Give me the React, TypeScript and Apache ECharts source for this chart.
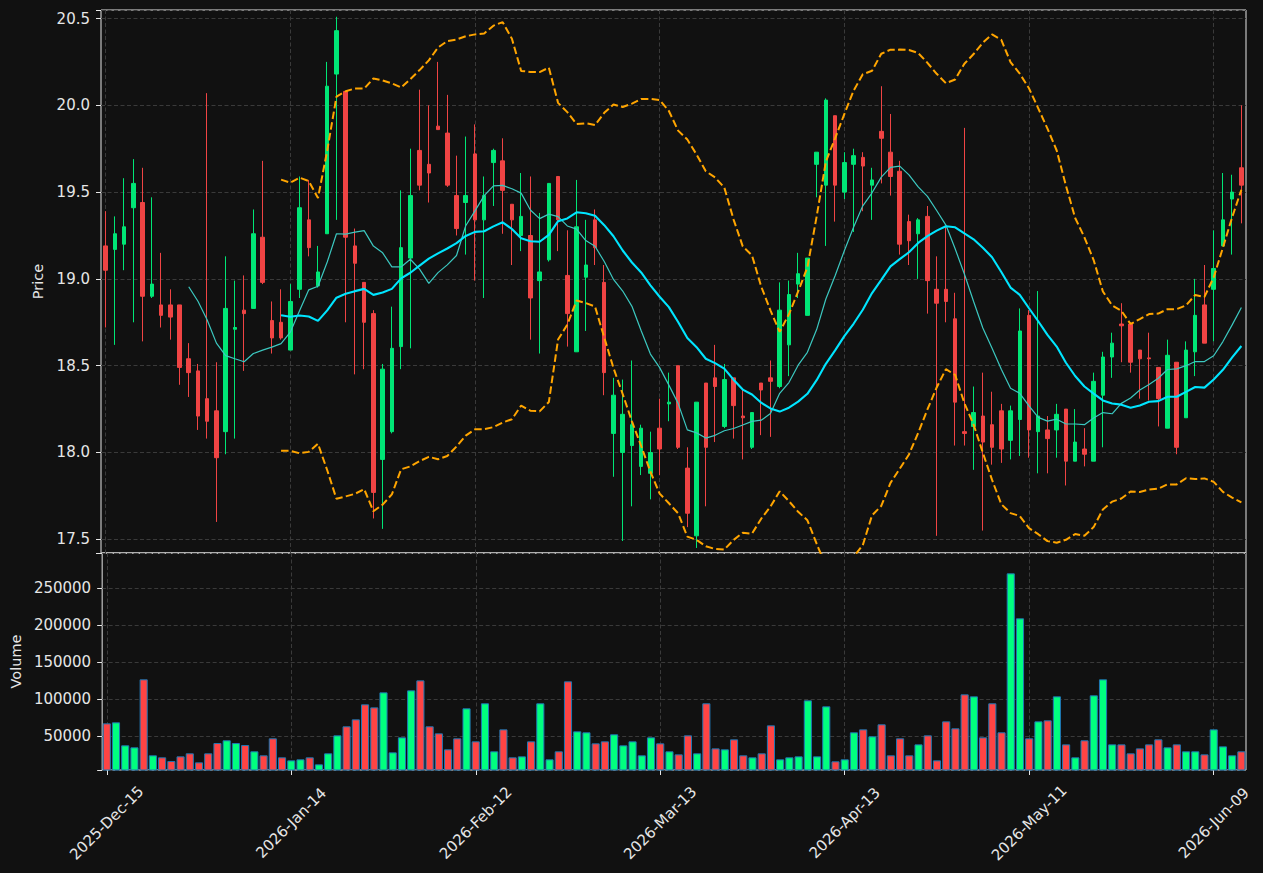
import React, { useEffect, useRef } from "react";
import * as echarts from "echarts";

const dates = [
  "2025-Dec-15","2025-Dec-16","2025-Dec-17","2025-Dec-18","2025-Dec-19","2025-Dec-22","2025-Dec-23","2025-Dec-24","2025-Dec-26","2025-Dec-29",
  "2025-Dec-30","2025-Dec-31","2026-Jan-02","2026-Jan-05","2026-Jan-06","2026-Jan-07","2026-Jan-08","2026-Jan-09","2026-Jan-12","2026-Jan-13",
  "2026-Jan-14","2026-Jan-15","2026-Jan-16","2026-Jan-20","2026-Jan-21","2026-Jan-22","2026-Jan-23","2026-Jan-26","2026-Jan-27","2026-Jan-28",
  "2026-Jan-29","2026-Jan-30","2026-Feb-02","2026-Feb-03","2026-Feb-04","2026-Feb-05","2026-Feb-06","2026-Feb-09","2026-Feb-10","2026-Feb-11",
  "2026-Feb-12","2026-Feb-13","2026-Feb-17","2026-Feb-18","2026-Feb-19","2026-Feb-20","2026-Feb-23","2026-Feb-24","2026-Feb-25","2026-Feb-26",
  "2026-Feb-27","2026-Mar-02","2026-Mar-03","2026-Mar-04","2026-Mar-05","2026-Mar-06","2026-Mar-09","2026-Mar-10","2026-Mar-11","2026-Mar-12",
  "2026-Mar-13","2026-Mar-16","2026-Mar-17","2026-Mar-18","2026-Mar-19","2026-Mar-20","2026-Mar-23","2026-Mar-24","2026-Mar-25","2026-Mar-26",
  "2026-Mar-27","2026-Mar-30","2026-Mar-31","2026-Apr-01","2026-Apr-02","2026-Apr-06","2026-Apr-07","2026-Apr-08","2026-Apr-09","2026-Apr-10",
  "2026-Apr-13","2026-Apr-14","2026-Apr-15","2026-Apr-16","2026-Apr-17","2026-Apr-20","2026-Apr-21","2026-Apr-22","2026-Apr-23","2026-Apr-24",
  "2026-Apr-27","2026-Apr-28","2026-Apr-29","2026-Apr-30","2026-May-01","2026-May-04","2026-May-05","2026-May-06","2026-May-07","2026-May-08",
  "2026-May-11","2026-May-12","2026-May-13","2026-May-14","2026-May-15","2026-May-18","2026-May-19","2026-May-20","2026-May-21","2026-May-22",
  "2026-May-26","2026-May-27","2026-May-28","2026-May-29","2026-Jun-01","2026-Jun-02","2026-Jun-03","2026-Jun-04","2026-Jun-05","2026-Jun-08",
  "2026-Jun-09","2026-Jun-10","2026-Jun-11","2026-Jun-12",
];

const open = [
  19.19,19.17,19.20,19.41,19.44,18.90,18.85,18.85,18.85,18.54,
  18.47,18.31,18.24,18.12,18.71,18.82,18.83,19.24,18.76,18.75,
  18.59,18.94,19.34,18.96,19.26,20.18,20.08,19.19,18.98,18.80,
  17.96,18.12,18.61,19.12,19.74,19.66,19.88,19.84,19.48,19.44,
  19.72,19.34,19.67,19.68,19.43,19.25,19.25,18.99,19.11,19.59,
  19.02,18.58,19.01,19.34,18.98,18.11,18.00,18.04,17.92,17.88,
  18.14,18.28,18.50,17.91,17.52,18.40,18.43,18.15,18.43,18.21,
  18.03,18.40,18.43,18.38,18.62,18.97,18.79,19.66,19.54,19.94,
  19.50,19.66,19.70,19.54,19.85,19.73,19.62,19.33,19.26,19.36,
  18.94,18.94,18.77,18.12,18.15,18.21,18.16,18.24,18.07,18.19,
  18.79,18.12,18.13,18.13,18.25,17.95,18.02,17.95,18.33,18.55,
  18.74,18.74,18.59,18.545,18.49,18.14,18.52,18.20,18.58,18.85,
  18.94,19.19,19.46,19.64,
];

const high = [
  19.39,19.36,19.58,19.69,19.64,19.47,19.15,18.94,18.85,18.63,
  18.51,20.07,18.52,19.13,18.99,19.02,19.40,19.68,18.87,18.94,
  18.97,19.59,19.57,19.19,20.25,20.51,20.08,19.29,18.98,18.82,
  18.51,18.84,19.51,19.75,20.09,20.00,20.25,20.06,19.71,19.82,
  19.89,19.59,19.75,19.81,19.43,19.61,19.59,19.38,19.55,19.59,
  19.28,19.57,19.34,19.40,19.08,18.43,18.42,18.53,18.16,18.12,
  18.31,18.46,18.50,18.03,18.29,18.40,18.62,18.51,18.43,18.37,
  18.23,18.40,18.53,18.98,18.99,19.15,19.12,19.73,20.04,19.94,
  19.73,19.75,19.73,19.64,20.11,19.95,19.68,19.37,19.35,19.42,
  19.13,19.30,18.92,19.87,18.38,18.46,18.35,18.28,18.27,18.83,
  18.82,18.93,18.21,18.28,18.25,18.25,18.14,18.46,18.58,18.69,
  18.86,18.74,18.59,18.69,18.49,18.65,18.52,18.64,19.00,19.08,
  19.28,19.61,19.60,20.00,
];

const low = [
  18.72,18.62,19.05,18.75,18.64,18.89,18.72,18.65,18.39,18.32,
  18.13,18.08,17.60,17.99,18.08,18.47,18.83,18.97,18.57,18.65,
  18.59,18.89,19.13,18.95,19.26,19.34,18.75,18.45,18.48,17.62,
  17.56,18.11,18.48,18.60,19.51,19.44,19.86,19.53,19.25,19.14,
  18.99,18.89,19.42,19.26,19.08,19.16,18.65,18.57,19.10,19.16,
  18.61,18.58,18.70,19.08,18.33,17.86,17.49,17.69,17.87,17.73,
  17.87,18.18,18.02,17.57,17.45,17.69,18.06,18.14,18.08,17.96,
  18.02,18.10,18.09,18.37,18.44,18.89,18.79,19.47,19.19,19.33,
  19.46,19.27,19.39,19.34,19.55,19.48,19.14,19.08,19.00,18.80,
  17.52,18.75,18.04,18.04,17.90,17.55,17.93,17.94,17.96,17.98,
  17.97,17.88,17.88,17.97,17.81,17.95,17.92,17.95,18.03,18.43,
  18.52,18.46,18.31,18.30,18.15,18.14,17.99,18.20,18.44,18.63,
  18.64,19.19,19.14,19.32,
];

const close = [
  19.05,19.26,19.30,19.55,18.90,18.97,18.79,18.78,18.49,18.46,
  18.21,18.18,17.97,18.83,18.72,18.80,19.26,18.98,18.66,18.66,
  18.87,19.41,19.18,19.04,20.11,20.43,19.24,19.09,18.75,17.77,
  18.48,18.60,19.18,19.48,19.54,19.61,19.86,19.54,19.29,19.48,
  19.34,19.48,19.74,19.51,19.34,19.36,18.89,19.04,19.55,19.34,
  18.80,19.30,19.08,19.18,18.46,18.33,18.22,18.16,18.14,18.00,
  18.02,18.29,18.03,17.65,18.29,18.03,18.38,18.42,18.27,18.20,
  18.23,18.36,18.41,18.82,18.91,19.03,19.12,19.73,20.03,19.54,
  19.67,19.71,19.65,19.57,19.81,19.59,19.20,19.22,19.34,18.99,
  18.86,18.87,18.29,18.11,18.23,18.06,18.03,18.02,18.24,18.70,
  18.13,18.21,18.08,18.22,17.95,18.06,17.99,18.41,18.55,18.63,
  18.73,18.52,18.54,18.54,18.31,18.56,18.03,18.59,18.79,18.63,
  19.06,19.34,19.50,19.54,
];

const volume = [
  67500,68900,37800,35100,127000,24300,21600,16600,22900,27000,
  14800,27000,40900,44600,40900,38200,29700,24300,47300,21600,
  17500,18900,21600,12100,27000,51300,63500,72900,93200,89100,
  109400,28300,48600,112100,125600,63500,54000,32400,47300,87800,
  43200,94600,29700,59400,21600,22900,43200,94600,18900,29700,
  124300,56700,55400,40500,43200,52700,37800,43200,24300,48600,
  40500,29700,25600,51300,27000,94600,33700,32400,45900,24300,
  21600,27000,64800,18900,21600,22900,98600,22900,90500,16200,
  18900,55400,59400,50000,66200,24300,47300,24300,39100,51300,
  17500,70200,60800,106700,104000,48600,94600,55400,270200,209400,
  47300,70200,71600,104000,39100,21600,44600,105400,127000,39100,
  39100,27000,33700,39100,45900,35100,39100,29700,29700,25600,
  59400,36400,24300,29700,
];

const UP = "#00e676";
const DOWN = "#f04444";
const VOL_UP = "#00ff7f";
const VOL_DOWN = "#ff4444";
const FG = "#e6e6e6";
const GRID_LINE = { color: "#3a3a3a", width: 1, type: [4, 2.5] as number[] };
const FONT = "DejaVu Sans";

function sma(src: number[], n: number): (number | null)[] {
  return src.map((_, i) => {
    if (i < n - 1) return null;
    let s = 0;
    for (let j = i - n + 1; j <= i; j++) s += src[j];
    return s / n;
  });
}

function band(src: number[], n: number, k: number): (number | null)[] {
  return src.map((_, i) => {
    if (i < n - 1) return null;
    let s = 0;
    for (let j = i - n + 1; j <= i; j++) s += src[j];
    const m = s / n;
    let v = 0;
    for (let j = i - n + 1; j <= i; j++) v += (src[j] - m) * (src[j] - m);
    return m + k * Math.sqrt(v / n);
  });
}

export default function App() {
  const ref = useRef<HTMLDivElement>(null);

  useEffect(() => {
    if (!ref.current) return;
    const chart = echarts.init(ref.current, null, { renderer: "svg" });

    const candles = dates.map((_, i) => [open[i], close[i], low[i], high[i]]);
    const vols = volume.map((v, i) => ({
      value: v,
      itemStyle: { color: close[i] >= open[i] ? VOL_UP : VOL_DOWN },
    }));
    const ma10 = sma(close, 10);
    const ma20 = sma(close, 20);
    const bbUp = band(close, 20, 2);
    const bbLow = band(close, 20, -2);

    const priceFmt = (v: number) =>
      Math.abs(v * 2 - Math.round(v * 2)) < 1e-6 ? v.toFixed(1) : "";
    const volFmt = (v: number) =>
      Math.abs(v / 50000 - Math.round(v / 50000)) < 1e-6 ? String(Math.round(v)) : "";

    const bbStyle = { color: "#ffa500", width: 2, type: [7.5, 3.3] as number[] };

    chart.setOption({
      animation: false,
      backgroundColor: "#111111",
      textStyle: { fontFamily: FONT },
      grid: [
        { left: 101, right: 17, top: 10, height: 543, show: true, borderColor: FG, borderWidth: 1, backgroundColor: "transparent" },
        { left: 101, right: 17, top: 553, height: 217, show: true, borderColor: FG, borderWidth: 1, backgroundColor: "transparent" },
      ],
      xAxis: [
        {
          type: "category", data: dates, gridIndex: 0, boundaryGap: true,
          axisLine: { show: false }, axisTick: { show: false }, axisLabel: { show: false },
          splitLine: { show: true, interval: 19, alignWithLabel: true, lineStyle: GRID_LINE },
        },
        {
          type: "category", data: dates, gridIndex: 1, boundaryGap: true,
          axisLine: { show: false },
          axisTick: { show: true, interval: 19, alignWithLabel: true, length: 5, lineStyle: { color: FG } },
          axisLabel: {
            interval: 19, rotate: 45, align: "center", verticalAlign: "middle", margin: 53,
            color: FG, fontSize: 15, fontFamily: FONT,
          },
          splitLine: { show: true, interval: 19, alignWithLabel: true, lineStyle: GRID_LINE },
        },
      ],
      yAxis: [
        {
          type: "value", gridIndex: 0, min: 17.421, max: 20.549, minInterval: 0.5, maxInterval: 0.5, splitNumber: 6,
          axisLine: { show: false },
          axisTick: { show: true, length: 5, lineStyle: { color: FG } },
          axisLabel: { formatter: priceFmt, margin: 11, color: FG, fontSize: 15, fontFamily: FONT },
          splitLine: { show: true, lineStyle: GRID_LINE },
          name: "Price", nameLocation: "middle", nameGap: 51,
          nameTextStyle: { color: FG, fontSize: 14.5, fontFamily: FONT },
        },
        {
          type: "value", gridIndex: 1, min: 4460, max: 297700, minInterval: 50000, maxInterval: 50000, splitNumber: 6,
          axisLine: { show: false },
          axisTick: { show: true, length: 5, lineStyle: { color: FG } },
          axisLabel: { formatter: volFmt, margin: 11, color: FG, fontSize: 15, fontFamily: FONT },
          splitLine: { show: true, lineStyle: GRID_LINE },
          name: "Volume", nameLocation: "middle", nameGap: 76,
          nameTextStyle: { color: FG, fontSize: 14.5, fontFamily: FONT },
        },
      ],
      series: [
        {
          type: "candlestick", name: "Price", xAxisIndex: 0, yAxisIndex: 0, data: candles, barWidth: 4,
          itemStyle: { color: UP, color0: DOWN, borderColor: UP, borderColor0: DOWN, borderWidth: 1 },
        },
        {
          type: "line", name: "MA10", xAxisIndex: 0, yAxisIndex: 0, data: ma10, showSymbol: false, symbol: "none",
          lineStyle: { color: "#3cc8c0", width: 1.2 },
        },
        {
          type: "line", name: "MA20", xAxisIndex: 0, yAxisIndex: 0, data: ma20, showSymbol: false, symbol: "none",
          lineStyle: { color: "#00e5ff", width: 2.1 },
        },
        {
          type: "line", name: "BB Upper", xAxisIndex: 0, yAxisIndex: 0, data: bbUp, showSymbol: false, symbol: "none",
          lineStyle: bbStyle,
        },
        {
          type: "line", name: "BB Lower", xAxisIndex: 0, yAxisIndex: 0, data: bbLow, showSymbol: false, symbol: "none",
          lineStyle: bbStyle,
        },
        {
          type: "bar", name: "Volume", xAxisIndex: 1, yAxisIndex: 1, data: vols, barWidth: "88%",
          itemStyle: { borderColor: "#1f77b4", borderWidth: 1 },
        },
      ],
    });

    return () => chart.dispose();
  }, []);

  return (
    <div
      ref={ref}
      style={{ position: "absolute", left: 0, top: 0, width: 1263, height: 873, background: "#111111" }}
    />
  );
}
